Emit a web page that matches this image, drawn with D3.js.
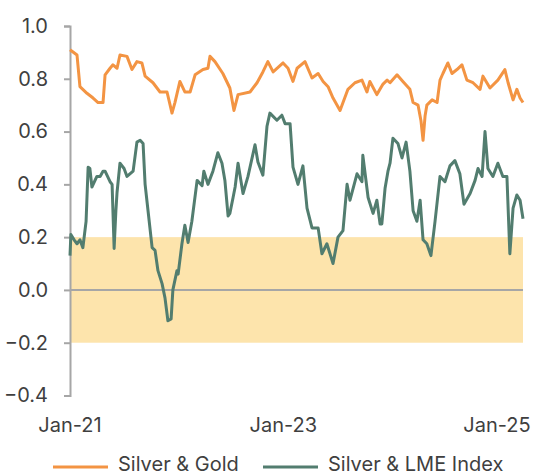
<!DOCTYPE html>
<html><head><meta charset="utf-8">
<script src="https://cdn.jsdelivr.net/npm/d3@7"></script>
<style>
html,body{margin:0;padding:0;background:#fff;}
svg{display:block;font-family:Inter,"Noto Sans",sans-serif;}
</style></head>
<body>
<svg id="chart" width="537" height="476"></svg>
<script>
// ---- Data ----
const seriesNames = ["Silver & Gold", "Silver & LME Index"];
const yTicks = [-0.4, -0.2, 0.0, 0.2, 0.4, 0.6, 0.8, 1.0];
const xTickDates = ["2021-01-01", "2023-01-01", "2025-01-01"];
const xTickLabels = ["Jan-21", "Jan-23", "Jan-25"];
const xDomain = ["2021-01-01", "2025-03-31"];
const bandRange = [-0.2, 0.2];

const goldDates = ["2021-01-01","2021-01-25","2021-02-04","2021-02-28","2021-03-21","2021-04-07","2021-04-24","2021-05-01","2021-05-18","2021-05-28","2021-06-11","2021-06-21","2021-07-15","2021-08-01","2021-08-18","2021-09-04","2021-09-15","2021-10-12","2021-11-05","2021-11-29","2021-12-16","2021-12-26","2022-01-12","2022-01-29","2022-02-16","2022-03-05","2022-04-01","2022-04-18","2022-04-25","2022-05-12","2022-06-08","2022-07-02","2022-07-16","2022-07-30","2022-09-09","2022-10-03","2022-10-23","2022-11-09","2022-11-27","2022-12-31","2023-01-17","2023-02-03","2023-02-17","2023-03-16","2023-04-09","2023-04-30","2023-05-17","2023-06-03","2023-06-20","2023-07-14","2023-08-10","2023-09-03","2023-09-27","2023-10-14","2023-10-24","2023-11-17","2023-12-08","2023-12-22","2024-01-01","2024-01-25","2024-02-14","2024-03-09","2024-03-20","2024-04-06","2024-04-16","2024-04-23","2024-04-30","2024-05-06","2024-05-24","2024-06-10","2024-06-20","2024-06-30","2024-07-17","2024-07-31","2024-08-17","2024-09-03","2024-09-20","2024-10-11","2024-11-04","2024-11-14","2024-12-08","2025-01-04","2025-01-28","2025-02-08","2025-02-25","2025-03-10","2025-03-21","2025-03-31"];
const goldValues = [0.91,0.89,0.77,0.745,0.727,0.71,0.71,0.815,0.84,0.853,0.84,0.89,0.885,0.835,0.865,0.86,0.81,0.785,0.75,0.75,0.67,0.71,0.79,0.75,0.75,0.815,0.835,0.84,0.885,0.865,0.82,0.765,0.68,0.74,0.75,0.785,0.826,0.865,0.826,0.86,0.84,0.79,0.84,0.865,0.803,0.82,0.79,0.77,0.727,0.68,0.76,0.785,0.795,0.75,0.79,0.74,0.78,0.795,0.785,0.815,0.79,0.76,0.71,0.70,0.64,0.567,0.66,0.70,0.72,0.71,0.795,0.82,0.86,0.82,0.835,0.853,0.795,0.785,0.76,0.81,0.765,0.795,0.835,0.785,0.72,0.76,0.727,0.71];

const lmeDates = ["2021-01-01","2021-01-04","2021-01-15","2021-01-25","2021-02-04","2021-02-14","2021-02-25","2021-03-04","2021-03-10","2021-03-17","2021-04-03","2021-04-14","2021-04-24","2021-05-01","2021-05-18","2021-05-25","2021-06-01","2021-06-07","2021-06-11","2021-06-21","2021-07-05","2021-07-15","2021-08-05","2021-08-18","2021-08-29","2021-09-08","2021-09-15","2021-09-25","2021-10-09","2021-10-19","2021-10-29","2021-11-12","2021-11-22","2021-12-02","2021-12-13","2021-12-19","2022-01-02","2022-01-06","2022-01-19","2022-01-29","2022-02-09","2022-02-22","2022-03-12","2022-03-29","2022-04-04","2022-04-18","2022-05-05","2022-05-22","2022-06-05","2022-06-15","2022-06-26","2022-07-02","2022-07-13","2022-07-20","2022-07-30","2022-08-16","2022-09-02","2022-09-26","2022-10-06","2022-10-23","2022-11-06","2022-11-16","2022-12-10","2022-12-27","2023-01-07","2023-01-24","2023-02-03","2023-02-20","2023-03-09","2023-03-23","2023-04-09","2023-04-30","2023-05-13","2023-05-30","2023-06-20","2023-07-07","2023-07-24","2023-08-07","2023-08-17","2023-09-10","2023-09-27","2023-09-30","2023-10-18","2023-11-04","2023-11-17","2023-11-28","2023-12-04","2023-12-15","2023-12-25","2024-01-01","2024-01-11","2024-01-28","2024-02-11","2024-02-25","2024-03-09","2024-03-20","2024-04-02","2024-04-13","2024-04-23","2024-05-06","2024-05-20","2024-06-03","2024-06-20","2024-07-07","2024-07-24","2024-08-10","2024-08-27","2024-09-10","2024-10-01","2024-10-18","2024-10-28","2024-11-11","2024-11-21","2024-12-01","2024-12-18","2025-01-04","2025-01-21","2025-02-04","2025-02-14","2025-02-25","2025-03-10","2025-03-21","2025-03-31"];
const lmeValues = [0.13,0.21,0.19,0.175,0.19,0.16,0.26,0.465,0.46,0.39,0.43,0.43,0.45,0.45,0.41,0.40,0.157,0.30,0.37,0.48,0.46,0.43,0.45,0.56,0.567,0.555,0.40,0.30,0.16,0.15,0.073,0.024,-0.03,-0.117,-0.11,0.0,0.073,0.06,0.175,0.245,0.18,0.26,0.415,0.395,0.45,0.40,0.45,0.52,0.48,0.415,0.28,0.29,0.35,0.39,0.48,0.365,0.43,0.55,0.485,0.435,0.62,0.67,0.643,0.662,0.63,0.63,0.465,0.40,0.47,0.31,0.235,0.235,0.137,0.175,0.10,0.2,0.225,0.40,0.34,0.44,0.41,0.51,0.35,0.29,0.34,0.25,0.25,0.385,0.45,0.48,0.575,0.555,0.50,0.56,0.45,0.30,0.26,0.34,0.19,0.175,0.13,0.26,0.43,0.41,0.47,0.49,0.44,0.325,0.365,0.415,0.46,0.43,0.60,0.46,0.43,0.48,0.43,0.43,0.137,0.31,0.36,0.34,0.27];

const colors = ["#F39443", "#527D6F"];

// ---- Chart ----
const parse = d3.utcParse("%Y-%m-%d");
const svg = d3.select("#chart");
const x = d3.scaleUtc().domain(xDomain.map(parse)).range([70, 523]);
const y = d3.scaleLinear().domain([-0.4, 1.0]).range([395.5, 26]);
const textColor = "#3f3f3f";
const fontSize = "20px";

// band
svg.append("rect")
  .attr("x", x(parse(xDomain[0])))
  .attr("width", x(parse(xDomain[1])) - x(parse(xDomain[0])))
  .attr("y", y(bandRange[1]))
  .attr("height", y(bandRange[0]) - y(bandRange[1]))
  .attr("fill", "#FDE4AC");

// zero line
svg.append("line")
  .attr("x1", x(parse(xDomain[0]))).attr("x2", x(parse(xDomain[1])))
  .attr("y1", y(0)).attr("y2", y(0))
  .attr("stroke", "#A6A6A6").attr("stroke-width", 2);

// y axis
const yAxis = svg.append("g").attr("transform", "translate(70,0)")
  .call(d3.axisLeft(y).tickValues(yTicks).tickFormat(d3.format(".1f")).tickSize(6).tickPadding(16));
yAxis.select(".domain").attr("stroke", "#A6A6A6").attr("stroke-width", 2);
yAxis.selectAll(".tick line").attr("stroke", "#A6A6A6").attr("stroke-width", 2);
yAxis.selectAll(".tick text").attr("fill", textColor).style("font-size", fontSize).style("font-family", "Inter");

// x labels
svg.append("g").selectAll("text").data(xTickDates).join("text")
  .attr("x", d => x(parse(d))).attr("y", 432)
  .attr("text-anchor", "middle")
  .attr("fill", textColor).style("font-size", fontSize)
  .text((d, i) => xTickLabels[i]);

// lines
const line = d3.line().x(d => x(d[0])).y(d => y(d[1]));
const goldData = goldDates.map((d, i) => [parse(d), goldValues[i]]);
const lmeData = lmeDates.map((d, i) => [parse(d), lmeValues[i]]);
svg.append("path").datum(goldData).attr("d", line)
  .attr("fill", "none").attr("stroke", colors[0]).attr("stroke-width", 3).attr("stroke-linejoin", "round");
svg.append("path").datum(lmeData).attr("d", line)
  .attr("fill", "none").attr("stroke", colors[1]).attr("stroke-width", 3).attr("stroke-linejoin", "round");

// legend
const legendX = [53, 263];
const leg = svg.append("g").selectAll("g").data(seriesNames).join("g")
  .attr("transform", (d, i) => `translate(${legendX[i]},467)`);
leg.append("line").attr("x1", 0).attr("x2", 55).attr("y1", 0).attr("y2", 0)
  .attr("stroke", (d, i) => colors[i]).attr("stroke-width", 3);
leg.append("text").attr("x", 65).attr("y", 4)
  .attr("fill", textColor).style("font-size", fontSize).text(d => d);
</script>
</body></html>
